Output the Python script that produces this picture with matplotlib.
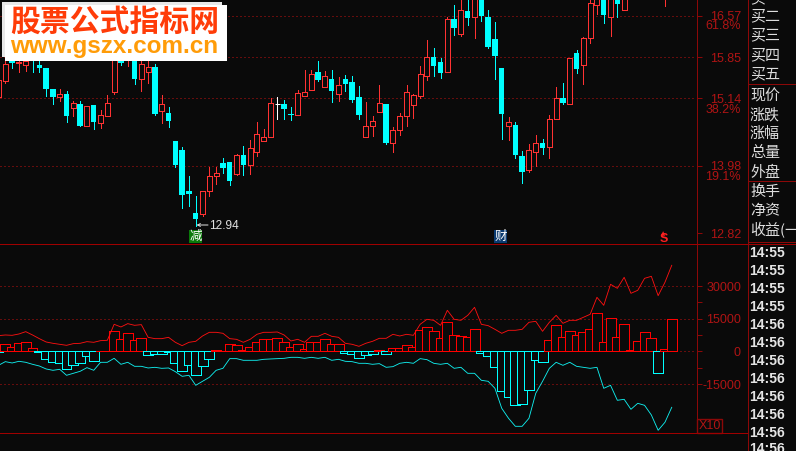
import numpy as np
import matplotlib
matplotlib.use("Agg")
import matplotlib.pyplot as plt
from matplotlib.patches import Rectangle

nan = float("nan")
# daily prices, index -1 .. 97
opens = [15.16,15.45,15.86,15.75,15.71,15.74,15.72,15.66,15.30,15.16,15.22,14.97,15.05,14.66,15.03,14.72,14.84,15.26,15.92,15.80,15.92,15.48,15.59,15.68,14.92,14.89,14.40,14.25,13.54,13.16,13.15,13.55,13.80,14.03,14.04,13.83,14.16,14.00,14.21,14.40,14.47,15.04,15.05,14.87,14.86,15.19,15.29,15.60,15.34,15.48,15.22,15.48,15.43,15.17,14.47,14.66,14.90,15.05,14.38,14.59,14.84,15.03,15.19,15.52,15.86,15.77,15.59,16.51,16.26,16.65,16.54,17.00,16.55,16.17,15.67,14.67,14.68,14.15,13.91,14.21,14.37,14.31,14.78,15.15,15.05,15.93,15.71,16.19,16.76,17.10,16.54,17.05,16.67,nan,nan,nan,nan,nan,17.00]
closes = [15.46,15.73,15.76,15.77,15.79,15.73,15.67,15.30,15.17,15.21,14.83,15.06,14.67,15.01,14.74,14.85,15.06,16.09,15.76,16.03,15.48,15.73,15.68,14.87,15.04,14.75,13.99,13.48,13.50,13.07,13.54,13.80,13.85,13.94,13.71,14.16,13.99,14.28,14.52,14.47,15.06,15.04,14.96,14.86,15.23,15.26,15.57,15.46,15.52,15.27,15.37,15.39,15.12,14.86,14.66,14.75,15.06,14.37,14.59,14.83,15.25,15.20,15.57,15.85,15.70,15.58,16.51,16.36,16.66,16.53,17.00,16.56,16.03,15.87,14.87,14.74,14.17,13.87,14.25,14.37,14.29,14.78,15.14,15.06,15.83,15.65,16.18,16.78,17.00,16.58,17.00,16.77,17.00,nan,nan,nan,nan,nan,17.05]
highs = [15.46,15.80,15.90,15.85,15.85,15.83,15.80,15.66,15.30,15.30,15.27,15.09,15.10,15.01,15.03,14.94,15.20,16.12,15.98,16.08,15.97,15.80,15.79,15.73,15.20,15.00,14.40,14.30,13.80,13.46,13.54,13.96,13.95,14.11,14.04,14.18,14.32,14.42,14.74,14.61,15.15,15.17,15.12,14.99,15.29,15.63,15.63,15.79,15.62,15.63,15.51,15.55,15.53,15.36,15.08,14.84,15.37,15.05,14.65,14.89,15.37,15.21,15.70,16.15,16.01,15.84,16.55,16.75,16.90,16.90,17.05,17.05,16.67,16.46,15.67,14.82,14.74,14.24,14.36,14.51,14.44,14.86,15.34,15.41,15.83,15.98,16.20,16.95,17.10,17.15,17.10,17.10,17.10,nan,nan,nan,nan,nan,17.10]
lows = [15.16,15.40,15.67,15.60,15.62,15.60,15.60,15.19,15.05,15.10,14.74,14.83,14.67,14.66,14.62,14.63,14.83,15.22,15.71,15.70,15.39,15.27,15.41,14.86,14.72,14.65,13.95,13.26,13.28,12.94,13.12,13.45,13.67,13.86,13.64,13.82,13.82,13.84,14.14,14.40,14.47,14.79,14.79,14.77,14.86,15.19,15.29,15.44,15.34,15.08,15.10,15.27,15.08,14.79,14.47,14.49,14.90,14.36,14.22,14.51,14.67,14.80,15.15,15.46,15.53,15.49,15.59,16.24,16.22,16.41,16.18,16.48,16.01,15.48,14.44,14.42,14.11,13.68,13.87,13.98,14.18,14.11,14.78,15.05,15.05,15.58,15.39,16.10,16.60,16.44,16.22,16.55,16.67,nan,nan,nan,nan,nan,16.74]

# indicator histogram, index -1 .. 98
hist = [-100,3290,2220,3750,4210,1450,-380,-3290,-4670,-5130,-8190,-6350,-5430,-2220,-4510,100,100,9560,5580,8340,5130,6040,-1450,-1300,-1300,-380,-5130,-8800,-6350,-10940,-6810,-3290,540,230,3290,2830,540,1910,4210,5580,5580,6040,4210,1910,3290,990,4210,4210,5580,3290,3290,-840,-990,-3140,-1760,-1300,540,-1300,1450,1450,2830,1910,9720,11090,9260,6040,13390,7420,6960,6500,10170,-840,-2220,-7270,-18280,-21040,-24710,-24250,-17820,-4050,-4970,5130,12010,6500,9260,7420,8800,10170,17520,4210,15220,6500,12470,540,4670,8800,6040,-10020,990,14760]
red_line = [7270,7570,7420,8030,9100,7570,5890,4360,3750,3290,2830,3600,3750,4510,4210,4970,5130,12470,11250,12780,12010,12320,6500,5890,5890,6500,4210,2680,4210,4670,7110,8800,8800,8340,5890,5580,4210,5580,7880,8800,8800,8950,7570,4820,5580,4210,6960,6960,8340,6960,6500,3750,3290,2370,3750,4670,6040,6040,7880,7110,7880,7420,12470,14760,14310,12010,18900,14760,14310,16600,20270,12470,11860,10170,8340,9720,9720,10170,13390,13850,9260,13390,16600,12930,14310,14310,15680,17060,24860,21190,30830,28990,34040,26700,28080,33580,34500,25630,31750,39550]
cyan_line = [-6350,-4670,-5280,-4510,-4970,-5890,-6660,-8030,-8640,-8190,-10940,-10020,-9100,-7420,-8640,-4970,-4970,-3140,-5890,-4970,-6810,-6810,-7570,-7270,-7730,-7570,-9260,-11400,-10940,-15530,-13690,-11860,-8640,-7730,-3290,-3290,-4050,-4050,-4050,-3600,-3440,-3290,-3140,-2680,-2680,-3140,-2680,-3140,-2680,-4050,-3600,-4510,-4670,-5430,-5430,-5890,-5580,-7270,-6960,-5430,-4970,-5430,-3290,-3750,-5430,-5890,-5430,-7730,-7270,-10020,-10020,-13230,-13690,-16910,-26090,-30680,-34350,-34350,-30680,-19200,-13690,-7730,-4970,-6350,-4970,-6810,-7270,-7730,-7270,-16910,-15530,-22410,-21960,-26550,-23790,-24710,-29150,-36180,-32510,-25630]

price_ticks = [16.57, 15.85, 15.14, 13.98, 12.82]
price_grid = [16.57, 15.85, 15.14, 13.98]
pct_labels = ["61.8%", "38.2%", "19.1%"]
sub_ticks = [30000, 15000, 0, -15000]
sub_minor = [22500, 7500, -7500]
low_label = "12.94"
side_upper = ["买二", "买三", "买四", "买五"]
side_mid = ["现价", "涨跌", "涨幅", "总量", "外盘"]
side_low = ["换手", "净资", "收益(一)"]
times = ["14:55"] * 4 + ["14:56"] * 8

BG = "#0a0a0a"
DARK = "#8c0808"
LBL = "#b01414"
RED = "#ff3232"
CY = "#00ffff"
W, H = 796, 451
PX = 72 / 100

plt.rcParams["font.family"] = ["Liberation Sans", "DejaVu Sans"]
fig = plt.figure(figsize=(W / 100, H / 100), dpi=100, facecolor=BG)

def mk(top, bottom):
    a = fig.add_axes([0, 1 - bottom / H, 696.5 / W, (bottom - top) / H], facecolor=BG)
    for s in ("left", "top", "bottom"):
        a.spines[s].set_visible(False)
    a.spines["right"].set_color(DARK)
    a.spines["right"].set_linewidth(PX)
    a.set_xlim(-0.784, 101.64)
    a.set_xticks([])
    a.yaxis.tick_right()
    return a

def dotted(a, levels):
    for v in levels:
        a.plot([-0.784, 101.64], [v, v], color="#c01010", lw=PX,
               linestyle=(0, (1, 3)), zorder=1)

# ---- price panel
ax = mk(0, 244)
ax.set_ylim(12.631, 16.838)
x = np.arange(-1, len(opens) - 1)
o, c, h, l = map(np.array, (opens, closes, highs, lows))
ok = ~np.isnan(o)
up = ok & (c > o)
dn = ok & (c < o)
fl = ok & (c == o)
dotted(ax, price_grid)
for m, col in ((up, RED), (dn, CY), (fl, "#ffffff")):
    ax.vlines(x[m], l[m], h[m], color=col, lw=PX, antialiased=False, zorder=2)
ax.bar(x[up], (c - o)[up], 0.74, bottom=o[up], facecolor=BG, edgecolor=RED, lw=PX, aa=False, zorder=3)
ax.bar(x[dn], (c - o)[dn], 0.80, bottom=o[dn], facecolor=CY, edgecolor=CY, lw=0, aa=False, zorder=3)
ax.hlines(o[fl], x[fl] - 0.4, x[fl] + 0.4, color="#ffffff", lw=PX, zorder=3)
ax.set_yticks(price_ticks, [f"{v:.2f}" for v in price_ticks])
ax.tick_params(axis="y", direction="out", length=5 * PX, width=PX, color=DARK,
               labelcolor=LBL, labelsize=9, pad=39.5 * PX)
for t in ax.get_yticklabels():
    t.set_ha("right")

# ---- indicator panel
sx = mk(245, 433.3)
sx.set_ylim(-37560, 48880)
hx = np.arange(-1, len(hist) - 1)
hv = np.array(hist)
dotted(sx, sub_ticks)
sx.bar(hx, hv, 1.46, facecolor=BG, edgecolor=[("#ff0000" if v > 0 else CY) for v in hv],
       lw=PX, aa=False, zorder=3)
sx.plot(hx, red_line, color="#ff1010", lw=0.62, zorder=4)
sx.plot(hx, cyan_line, color="#10f0f0", lw=0.62, zorder=4)
sx.set_yticks(sub_ticks, [str(v) for v in sub_ticks])
sx.set_yticks(sub_minor, minor=True)
sx.tick_params(axis="y", which="both", direction="out", length=5 * PX, width=PX, color=DARK,
               labelcolor=LBL, labelsize=9, pad=39.5 * PX)
for t in sx.get_yticklabels():
    t.set_ha("right")

# ---- overlay in pixel space
ov = fig.add_axes([0, 0, 1, 1], zorder=10)
ov.set_xlim(0, W)
ov.set_ylim(H, 0)
ov.axis("off")
ov.patch.set_alpha(0)
CJK = ["Noto Sans CJK SC", "DejaVu Sans"]

for y0, x1 in ((244, W), (433.3, 747.5)):
    ov.plot([0, x1], [y0, y0], color="#a00000", lw=PX, aa=False)
ov.plot([747.5, 747.5], [0, H], color=DARK, lw=PX, aa=False)
for y0 in (84, 181, 242):
    ov.plot([747.5, W], [y0, y0], color=DARK, lw=PX, aa=False)

for s, y0 in zip(pct_labels, (26, 110, 176.5)):
    ov.text(741, y0, s, color=LBL, fontsize=9, ha="right", va="center")

for s, y0 in zip(side_upper, (16, 35, 55, 74)):
    ov.text(750, y0, s, color="#dddddd", fontsize=10.8, family=CJK, ha="left", va="center")
ov.text(750, -2, "买一", color="#dddddd", fontsize=10.8, family=CJK, ha="left", va="center", clip_on=True)
for s, y0 in zip(side_mid, (96, 115, 134, 153, 173)):
    ov.text(750, y0, s, color="#dddddd", fontsize=10.8, family=CJK, ha="left", va="center")
for s, y0 in zip(side_low, (192, 211, 230)):
    ov.text(750, y0, s, color="#dddddd", fontsize=10.8, family=CJK, ha="left", va="center", clip_on=True)
for i, s in enumerate(times):
    ov.text(749, 253 + 18 * i - (i == 11) * 2, s, color="#e4e4e4", fontsize=10, fontweight="bold",
            ha="left", va="center", clip_on=True)

# low price annotation
ov.annotate("", xy=(196.5, 225), xytext=(208, 225),
            arrowprops=dict(arrowstyle="->", color="#e0e0e0", lw=PX, shrinkA=0, shrinkB=0, mutation_scale=5))
ov.text(209, 226, low_label, color="#e0e0e0", fontsize=8.6, ha="left", va="center")

# event markers
ov.add_patch(Rectangle((189.3, 230), 13, 13, facecolor="#0a7a0a", edgecolor="none"))
ov.text(195.8, 236.3, "减", color="#ffffff", fontsize=9, family=CJK, ha="center", va="center")
ov.add_patch(Rectangle((494, 230), 13, 13, facecolor="#0a3a70", edgecolor="none"))
ov.text(500.5, 236.3, "财", color="#ffffff", fontsize=9, family=CJK, ha="center", va="center")
ov.text(663.5, 239.5, "S", color="#ff2020", fontsize=9, fontweight="bold", ha="center", va="center")
ov.text(663.5, 234, "▲", color="#ff2020", fontsize=4, ha="center", va="center", family=["DejaVu Sans"])

# X10 box
ov.add_patch(Rectangle((696.7, 418.5), 25.6, 14.8, facecolor="none", edgecolor=DARK, lw=1.0))
ov.text(709.5, 426, "X10", color=LBL, fontsize=9, ha="center", va="center")

# website logo
ov.add_patch(Rectangle((2, 2), 220, 55, facecolor="#e8e8e8", edgecolor="none"))
ov.add_patch(Rectangle((5, 5), 222, 56, facecolor="#ffffff", edgecolor="none"))
ov.text(114.5, 21.5, "股票公式指标网", color="#ff3c08", fontsize=21.5, fontweight="bold",
        family=CJK, ha="center", va="center")
ov.text(114.5, 46.5, "www.gszx.com.cn", color="#ff9c08", fontsize=17.5, fontweight="bold",
        ha="center", va="center")

fig.savefig("out.png", dpi=100, facecolor=BG)
